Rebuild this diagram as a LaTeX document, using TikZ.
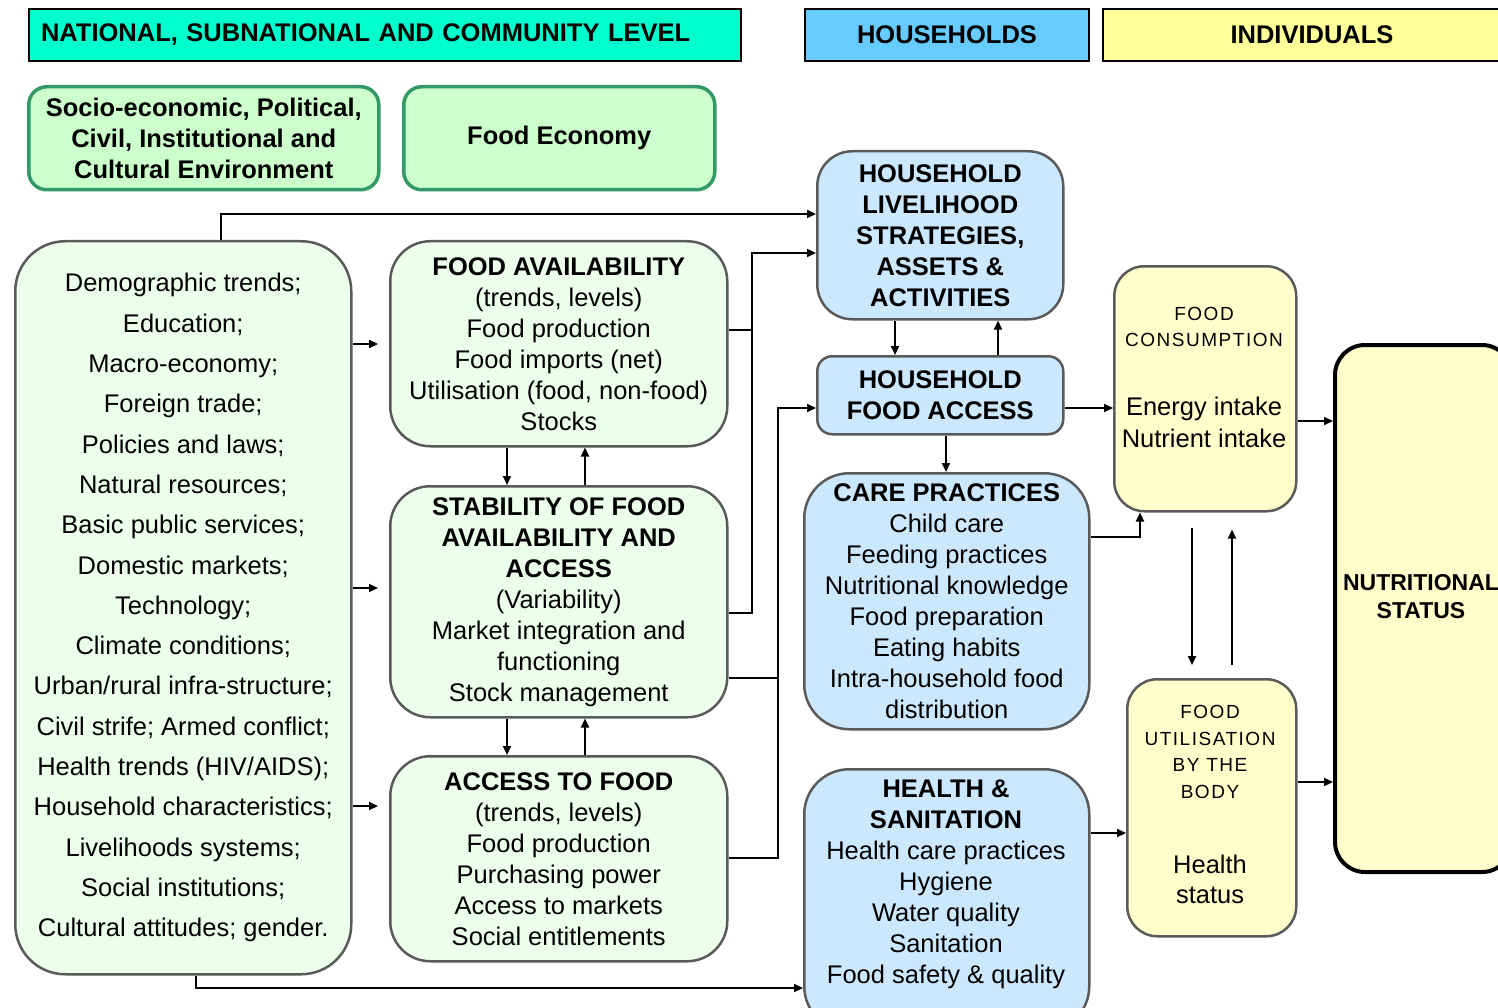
\documentclass[tikz,border=0pt]{standalone}
\usepackage{fontspec}
\setmainfont{Liberation Sans}
\newfontfamily\spacedfont[LetterSpace=8]{Liberation Sans}
\usetikzlibrary{arrows.meta}
\definecolor{natc}{HTML}{00FFCC}
\definecolor{hhc}{HTML}{66CCFF}
\definecolor{indc}{HTML}{FFFF99}
\definecolor{envfill}{HTML}{CCFFCC}
\definecolor{envline}{HTML}{339966}
\definecolor{gfill}{HTML}{EBFFEB}
\definecolor{bfill}{HTML}{CCE8FF}
\definecolor{yfill}{HTML}{FFFFCC}
\definecolor{bline}{HTML}{5A5A5A}
\newcommand\fz{\fontsize{25.5}{31}\selectfont}
\newcommand\fzs{\spacedfont\fontsize{19}{26.5}\selectfont}
\tikzset{
  hdr/.style={draw=black, line width=2pt, inner sep=0pt, font=\bfseries\fz, anchor=north west, minimum height=52pt},
  envbox/.style={draw=envline, fill=envfill, line width=3.5pt, rounded corners=18pt, font=\bfseries\fz, align=center, inner sep=0pt, anchor=north west},
  gbox/.style={draw=bline, fill=gfill, line width=2.5pt, align=center, font=\fz, inner sep=0pt, anchor=north west},
  bbox/.style={draw=bline, fill=bfill, line width=2.5pt, align=center, font=\fz, inner sep=0pt, anchor=north west},
  ybox/.style={draw=bline, fill=yfill, line width=2.5pt, align=center, font=\fz, inner sep=0pt, anchor=north west},
  txt/.style={align=center, inner sep=0pt},
  arr/.style={-{Triangle[length=9pt,width=8pt]}, line width=2pt},
  ln/.style={line width=2pt}
}
\begin{document}
\begin{tikzpicture}[x=1pt,y=-1pt]
\useasboundingbox (0,0) rectangle (1498,1008);
\fill[white] (0,0) rectangle (1498,1008);
\clip (0,0) rectangle (1498,1008);

% headers
\node[hdr, fill=natc, minimum width=712pt, text width=688pt, align=left] (nat) at (28,8) {NATIONAL, SUBNATIONAL AND COMMUNITY LEVEL};
\node[hdr, fill=hhc, minimum width=284pt] (hh) at (804,8) {HOUSEHOLDS};
\node[hdr, fill=indc, minimum width=418pt] (ind) at (1102,8) {INDIVIDUALS};

% environment boxes
\node[envbox, minimum width=350pt, minimum height=103pt] (env) at (27,85) {Socio-economic, Political,\\Civil, Institutional and\\Cultural Environment};
\node[envbox, minimum width=311pt, minimum height=103pt] (feco) at (402,85) {Food Economy};

% left big box
\node[gbox, rounded corners=50pt, minimum width=336pt, minimum height=733pt, font=\fontsize{25.5}{40.3}\selectfont] (big) at (14,240)
 {Demographic trends;\\Education;\\Macro-economy;\\Foreign trade;\\Policies and laws;\\Natural resources;\\Basic public services;\\Domestic markets;\\Technology;\\Climate conditions;\\Urban/rural infra-structure;\\Civil strife; Armed conflict;\\Health trends (HIV/AIDS);\\Household characteristics;\\Livelihoods systems;\\Social institutions;\\Cultural attitudes; gender.};

% food economy column
\node[gbox, rounded corners=40pt, minimum width=337pt, minimum height=205pt] (fa) at (389,240)
 {\textbf{FOOD AVAILABILITY}\\(trends, levels)\\Food production\\Food imports (net)\\Utilisation (food, non-food)\\Stocks};
\node[gbox, rounded corners=40pt, minimum width=337pt, minimum height=231pt] (stab) at (389,485)
 {\textbf{STABILITY OF FOOD}\\\textbf{AVAILABILITY AND}\\\textbf{ACCESS}\\(Variability)\\Market integration and\\functioning\\Stock management};
\node[gbox, rounded corners=40pt, minimum width=337pt, minimum height=205pt] (acc) at (389,755)
 {\textbf{ACCESS TO FOOD}\\(trends, levels)\\Food production\\Purchasing power\\Access to markets\\Social entitlements};

% household column
\node[bbox, rounded corners=35pt, minimum width=246pt, minimum height=168pt, font=\bfseries\fz] (liv) at (816,150)
 {HOUSEHOLD\\LIVELIHOOD\\STRATEGIES,\\ASSETS \&\\ACTIVITIES};
\node[bbox, rounded corners=15pt, minimum width=246pt, minimum height=78pt, font=\bfseries\fz] (hfa) at (816,355)
 {HOUSEHOLD\\FOOD ACCESS};
\node[bbox, rounded corners=45pt, minimum width=285pt, minimum height=256pt] (care) at (803,472)
 {\textbf{CARE PRACTICES}\\Child care\\Feeding practices\\Nutritional knowledge\\Food preparation\\Eating habits\\Intra-household food\\distribution};
\node[bbox, rounded corners=45pt, minimum width=285pt, minimum height=262pt] (hs) at (803,768) {};
\node[txt, font=\fz] (hst) at (946,884)
 {\textbf{HEALTH \&}\\\textbf{SANITATION}\\Health care practices\\Hygiene\\Water quality\\Sanitation\\Food safety \& quality};

% individuals column
\node[ybox, rounded corners=30pt, minimum width=182pt, minimum height=245pt] (cons) at (1113,265) {};
\node[txt, font=\fzs] (ct1) at (1204,327) {FOOD\\CONSUMPTION};
\node[txt, font=\fontsize{25.5}{32}\selectfont] (ct2) at (1204,422) {Energy intake\\Nutrient intake};
\node[ybox, rounded corners=30pt, minimum width=169pt, minimum height=257pt] (util) at (1126,678) {};
\node[txt, font=\fzs] (ut1) at (1210,752) {FOOD\\UTILISATION\\BY THE\\BODY};
\node[txt, font=\fontsize{25.5}{30}\selectfont] (ut2) at (1210,879) {Health\\status};
\node[ybox, draw=black, line width=4pt, rounded corners=30pt, minimum width=177pt, minimum height=527pt] (nut) at (1333,343) {};
\node[txt, font=\bfseries\fontsize{23}{28}\selectfont] (nutt) at (1421,597) {NUTRITIONAL\\STATUS};

% connectors: left box
\draw[arr] (big.north -| 221,0) -- (221,214) -- (liv.west |- 0,214);
\draw[arr, shorten >=11pt] (big.east |- 0,344) -- (fa.west |- 0,344);
\draw[arr, shorten >=11pt] (big.east |- 0,588) -- (stab.west |- 0,588);
\draw[arr, shorten >=11pt] (big.east |- 0,806) -- (acc.west |- 0,806);
\draw[arr] (big.south -| 196,0) -- (196,988) -- (hs.west |- 0,988);

% between food columns
\draw[arr] (fa.south -| 507,0) -- (stab.north -| 507,0);
\draw[arr] (stab.north -| 585,0) -- (fa.south -| 585,0);
\draw[arr] (stab.south -| 507,0) -- (acc.north -| 507,0);
\draw[arr] (acc.north -| 585,0) -- (stab.south -| 585,0);

% to household boxes
\draw[arr] (fa.east |- 0,330) -- (752,330) -- (752,253) -- (liv.west |- 0,253);
\draw[ln] (stab.east |- 0,613) -- (752,613) -- (752,330);
\draw[ln] (stab.east |- 0,678) -- (778,678);
\draw[arr] (acc.east |- 0,858) -- (778,858) -- (778,408) -- (hfa.west |- 0,408);

% household internal
\draw[arr] (liv.south -| 895,0) -- (hfa.north -| 895,0);
\draw[arr] (hfa.north -| 998,0) -- (liv.south -| 998,0);
\draw[arr] (hfa.south -| 946,0) -- (care.north -| 946,0);
\draw[arr] (hfa.east |- 0,408) -- (cons.west |- 0,408);
\draw[arr] (care.east |- 0,537) -- (1140,537) -- (cons.south -| 1140,0);
\draw[arr] (hs.east |- 0,833) -- (util.west |- 0,833);

% individuals
\draw[arr, shorten <=15pt, shorten >=13pt] (cons.south -| 1192,0) -- (util.north -| 1192,0);
\draw[arr, shorten <=13pt, shorten >=17pt] (util.north -| 1232,0) -- (cons.south -| 1232,0);
\draw[arr] (cons.east |- 0,421) -- (nut.west |- 0,421);
\draw[arr] (util.east |- 0,782) -- (nut.west |- 0,782);
\end{tikzpicture}
\end{document}
